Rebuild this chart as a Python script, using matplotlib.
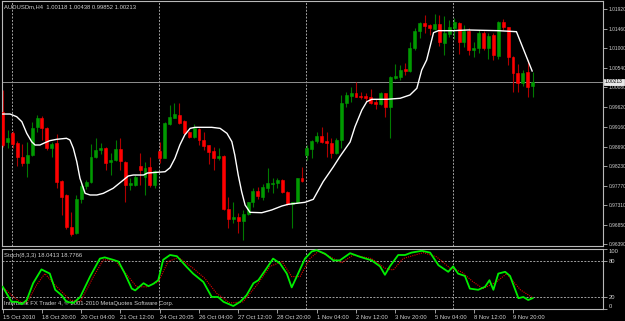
import matplotlib.pyplot as plt

title = 'AUDUSDm,H4  1.00118 1.00438 0.99852 1.00213'
stoch_title = 'Stoch(8,3,3) 18.0413 18.7766'
footer = 'Interbank FX Trader 4, \u00a9 2001-2010 MetaQuotes Software Corp.'

# H4 candles, 15 Oct 2010 -> 9 Nov 2010
opens = [0.99504, 0.98798, 0.99009, 0.98774, 0.98445, 0.98303, 0.98492, 0.99151, 0.99362, 0.99127,
         0.98657, 0.98774, 0.97880, 0.97551, 0.96798, 0.96656, 0.97457, 0.97762, 0.97857, 0.98445,
         0.98610, 0.98657, 0.98327, 0.98374, 0.98633, 0.98327, 0.97786, 0.97786, 0.98233, 0.97974,
         0.98210, 0.97786, 0.98586, 0.98421, 0.99221, 0.99362, 0.99433, 0.99292, 0.99033, 0.98915,
         0.99104, 0.98845, 0.98727, 0.98586, 0.98421, 0.98469, 0.97221, 0.96986, 0.97033, 0.96939,
         0.97104, 0.97386, 0.97645, 0.97504, 0.97716, 0.97810, 0.97833, 0.97904, 0.97621, 0.97339,
         0.97386, 0.97951, 0.98492, 0.98633, 0.98821, 0.98939, 0.98821, 0.98774, 0.98539, 0.98845,
         0.99715, 0.99880, 0.99951, 0.99880, 0.99880, 0.99857, 0.99739, 0.99692, 0.99951, 0.99621,
         1.00304, 1.00327, 1.00515, 1.00468, 1.01009, 1.01409, 1.01597, 1.01550, 1.01457, 1.01574,
         1.01127, 1.01339, 1.01480, 1.01597, 1.01151, 1.01409, 1.00962, 1.01009, 1.01362, 1.01009,
         1.01315, 1.00821, 1.01621, 1.01504, 1.00798, 1.00421, 1.00186, 1.00445, 1.00118]
highs = [1.00021, 0.99080, 0.99057, 0.98821, 0.98751, 0.98798, 0.99268, 0.99433, 0.99410, 0.99151,
         0.98798, 0.98986, 0.97904, 0.97574, 0.97151, 0.97551, 0.97880, 0.97904, 0.98751, 0.98892,
         0.98774, 0.98680, 0.98539, 0.98845, 0.98892, 0.98350, 0.97951, 0.98021, 0.98539, 0.98327,
         0.98445, 0.98139, 0.98798, 0.99268, 0.99668, 0.99715, 0.99715, 0.99315, 0.99057, 0.99221,
         0.99127, 0.99033, 0.98727, 0.98680, 0.98657, 0.98492, 0.97504, 0.97386, 0.97127, 0.97198,
         0.97386, 0.97716, 0.97739, 0.97810, 0.98186, 0.97951, 0.97951, 0.97927, 0.97645, 0.97386,
         0.97951, 0.98210, 0.98727, 0.98845, 0.99033, 0.99151, 0.99033, 0.98892, 0.98892, 0.99904,
         0.99975, 1.00092, 1.00210, 0.99975, 0.99951, 1.00045, 0.99810, 0.99975, 0.99951, 1.00351,
         1.00633, 1.00610, 1.00657, 1.01151, 1.01480, 1.01621, 1.01786, 1.01574, 1.01810, 1.01786,
         1.01762, 1.01668, 1.01715, 1.01621, 1.01550, 1.01480, 1.01151, 1.01433, 1.01409, 1.01362,
         1.01362, 1.01645, 1.01692, 1.01504, 1.00821, 1.00633, 1.00492, 1.00727, 1.00438]
lows = [0.98680, 0.98657, 0.98657, 0.98233, 0.98233, 0.97974, 0.98469, 0.99033, 0.98845, 0.98610,
        0.98445, 0.97716, 0.97080, 0.96751, 0.96586, 0.96633, 0.97362, 0.97692, 0.97833, 0.98421,
        0.98516, 0.98139, 0.98021, 0.98350, 0.98139, 0.97386, 0.97668, 0.97762, 0.97786, 0.97551,
        0.97739, 0.97716, 0.98303, 0.98421, 0.99198, 0.99362, 0.99221, 0.98986, 0.98892, 0.98892,
        0.98727, 0.98610, 0.98280, 0.98139, 0.98374, 0.97198, 0.96774, 0.96892, 0.96656, 0.96492,
        0.97080, 0.97268, 0.97457, 0.97433, 0.97621, 0.97598, 0.97716, 0.97598, 0.97315, 0.96774,
        0.97362, 0.97857, 0.98374, 0.98421, 0.98774, 0.98774, 0.98445, 0.98421, 0.98516, 0.98657,
        0.99621, 0.99739, 0.99857, 0.99810, 0.99762, 0.99692, 0.99574, 0.99668, 0.99386, 0.98892,
        1.00280, 1.00257, 1.00374, 1.00445, 1.00962, 1.01245, 1.01362, 1.01315, 1.01433, 1.01057,
        1.00845, 1.01268, 1.01221, 1.00868, 1.01033, 1.00845, 1.00798, 1.00892, 1.00962, 1.00751,
        1.00727, 1.00751, 1.01433, 1.00610, 0.99975, 0.99975, 1.00116, 0.99857, 0.99852]
closes = [0.98727, 0.98892, 0.98751, 0.98445, 0.98303, 0.98492, 0.99127, 0.99362, 0.99127, 0.98657,
          0.98751, 0.97857, 0.97504, 0.96798, 0.96633, 0.97457, 0.97762, 0.97857, 0.98445, 0.98610,
          0.98657, 0.98303, 0.98374, 0.98633, 0.98350, 0.97786, 0.97833, 0.97974, 0.98139, 0.98186,
          0.97786, 0.98115, 0.98421, 0.99245, 0.99386, 0.99457, 0.99245, 0.99009, 0.98915, 0.99127,
          0.98845, 0.98704, 0.98563, 0.98421, 0.98469, 0.97221, 0.96986, 0.97033, 0.96939, 0.97104,
          0.97386, 0.97645, 0.97527, 0.97739, 0.97833, 0.97833, 0.97904, 0.97621, 0.97339, 0.97386,
          0.97951, 0.97880, 0.98657, 0.98821, 0.98939, 0.98798, 0.98774, 0.98539, 0.98845, 0.99715,
          0.99904, 0.99951, 0.99857, 0.99857, 0.99833, 0.99715, 0.99692, 0.99951, 0.99621, 1.00327,
          1.00351, 1.00492, 1.00468, 1.01009, 1.01409, 1.01597, 1.01527, 1.01480, 1.01574, 1.01151,
          1.01362, 1.01504, 1.01621, 1.01151, 1.01409, 1.00962, 1.01009, 1.01362, 1.01009, 1.01292,
          1.00845, 1.01621, 1.01504, 1.00798, 1.00421, 1.00186, 1.00421, 1.00092, 1.00213]

# moving average (white line), read at bar positions
ma_bar = [0, 1.5, 2.85, 3.9, 4.9, 5.9, 6.6, 7.6, 8.6, 9.6, 11, 13, 13.7, 14.4, 15.1, 15.75, 16.8,
          17.8, 19.2, 20.5, 22.5, 24.6, 25.6, 26.6, 28.7, 29.5, 33.1, 34.1, 35.1, 36.1, 37.1, 38.2,
          39.2, 42.6, 44.3, 45.7, 46.7, 47.3, 48, 48.7, 49.4, 50.4, 52.8, 54.8, 56.9, 58.2, 61.6,
          63.3, 65.3, 67.4, 68.7, 70.8, 71.8, 73.2, 74.2, 75.2, 78.3, 81, 83, 84.4, 85.4, 86.4,
          87.8, 88.8, 91.8, 94.9, 101, 104.7, 107.9]
ma_val = [0.99456, 0.99456, 0.99393, 0.99275, 0.99002, 0.98805, 0.98727, 0.98727, 0.98781, 0.98829,
          0.98861, 0.98885, 0.98845, 0.98649, 0.98334, 0.97943, 0.97590, 0.97551, 0.97551, 0.97590,
          0.97708, 0.97904, 0.97998, 0.98021, 0.98021, 0.98068, 0.98099, 0.98193, 0.98414, 0.98727,
          0.98963, 0.99119, 0.99143, 0.99143, 0.99119, 0.99002, 0.98805, 0.98492, 0.98021, 0.97628,
          0.97315, 0.97143, 0.97134, 0.97198, 0.97292, 0.97332, 0.97379, 0.97449, 0.97864, 0.98217,
          0.98452, 0.98798, 0.99158, 0.99551, 0.99746, 0.99802, 0.99802, 0.99826, 0.99904, 1.00061,
          1.00492, 1.00727, 1.01370, 1.01417, 1.01417, 1.01433, 1.01417, 1.01393, 1.00468]

# stochastic %K (green) and %D (red dotted)
k_bar = [0, 0.8, 1.8, 2.9, 3.9, 4.9, 6.2, 7.9, 9.6, 10.7, 12, 13, 14.4, 15.8, 17.8, 19.8, 20.8,
         22.5, 23.6, 24.9, 26.3, 27, 28.7, 29.7, 30.7, 31.7, 32.7, 34.1, 35.5, 37.5, 38.8, 40.9,
         42.6, 43.9, 45, 47, 48.4, 49.7, 51.1, 52.1, 53.8, 55.1, 56.5, 57.9, 58.9, 60.2, 61.6, 63,
         64, 65.7, 67.4, 68.7, 70.8, 72.8, 75.2, 76.9, 77.9, 78.9, 80.6, 82, 83.3, 85.4, 87.1,
         88.8, 90.8, 91.8, 92.8, 94.2, 95.2, 96.9, 98.3, 99.2, 100, 101, 102.4, 103.4, 105.1,
         106.1, 107.1, 108]
k_val = [37, 26, 12, 12, 8, 15, 43, 66, 59, 32, 23, 12, 10, 20, 54, 84, 86, 82, 79, 59, 34, 31,
         43, 38, 42, 48, 82, 90, 88, 70, 59, 45, 20, 20, 12, 5, 12, 23, 43, 48, 68, 84, 76, 59, 36,
         59, 84, 96, 98, 92, 81, 81, 93, 87, 81, 71, 57, 71, 90, 90, 94, 97, 94, 73, 62, 71, 59,
         55, 34, 32, 37, 48, 32, 59, 62, 55, 18, 20, 15, 18.04]
d_bar = [0.1, 1.8, 3.5, 4.9, 6.9, 8.6, 10.3, 12, 13.7, 15.8, 18.5, 20.5, 22.9, 25.6, 27.3, 29.3,
         31.7, 33.7, 35.8, 38.8, 41.2, 43.6, 46.3, 49, 51.8, 54.5, 56.9, 58.9, 60.6, 62.6, 64.3,
         66.7, 69.1, 71.4, 75.2, 77.9, 79.6, 81.6, 85.7, 88.4, 91.2, 93.5, 95.9, 97.9, 100.6,
         102.7, 105.5, 108]
d_val = [36, 23, 12, 10, 40, 59, 43, 29, 15, 12, 54, 82, 81, 54, 37, 37, 45, 79, 86, 68, 51, 26,
         10, 12, 40, 71, 79, 54, 54, 84, 96, 87, 77, 90, 84, 68, 65, 84, 94, 87, 68, 62, 45, 34,
         45, 59, 32, 18.78]

price_ticks = [1.0192, 1.0146, 1.0100, 1.0054, 1.0008, 0.9962, 0.9916, 0.9869, 0.9823, 0.9777,
               0.9731, 0.9685, 0.9639]
price_labels = ['1.01920', '1.01460', '1.01000', '1.00540', '1.00080', '0.99620', '0.99160',
                '0.98690', '0.98230', '0.97770', '0.97310', '0.96850', '0.96390']
bid = 1.00213

time_bars = [0, 8, 16, 24, 32, 40, 48, 56, 64, 72, 80, 88, 96, 104]
time_labels = ['15 Oct 2010', '18 Oct 20:00', '20 Oct 04:00', '21 Oct 12:00', '24 Oct 20:05',
               '26 Oct 04:00', '27 Oct 12:00', '28 Oct 20:00', '1 Nov 04:00', '2 Nov 12:00',
               '3 Nov 20:00', '5 Nov 04:00', '8 Nov 12:00', '9 Nov 20:00']
grid_bars = [2, 32, 62, 92]

plt.rcParams['font.family'] = ['Liberation Sans', 'DejaVu Sans']
fg = '#d0d0d0'
frame = '#b8b8b8'
fs = 4.2
fs_price = 3.5

fig = plt.figure(figsize=(6.25, 3.21), dpi=100, facecolor='black')
W, H = 625.0, 321.0
ax = fig.add_axes([2 / W, 1 - 246 / H, 601 / W, 245 / H], facecolor='black')
ax2 = fig.add_axes([2 / W, 1 - 309 / H, 601 / W, 60 / H], facecolor='black')

xlim = (-0.143, 122.34)
for a in (ax, ax2):
    a.set_xlim(*xlim)
    for s in a.spines.values():
        s.set_color(frame)
        s.set_linewidth(0.8)
    for g in grid_bars:
        a.axvline(g - 0.15, color='#a0a0a0', lw=0.7, ls=(0, (2, 1.5)), zorder=0)

ax.set_ylim(0.96351, 1.02115)

# candles
n = len(opens)
for i in range(n):
    up = closes[i] >= opens[i]
    wick = '#007a00' if up else '#b00000'
    body = '#009a00' if up else '#ff0000'
    ax.vlines(i, lows[i], highs[i], color=wick, lw=0.8, zorder=2)
    ax.bar(i, closes[i] - opens[i], bottom=opens[i], width=0.6, color=body,
           edgecolor=body, linewidth=0.4, zorder=3)

ax.plot(ma_bar, ma_val, color='white', lw=1.0, zorder=4)
ax.axhline(bid, color='#909090', lw=0.7, zorder=1)

ax.yaxis.tick_right()
ax.set_yticks(price_ticks)
ax.set_yticklabels(price_labels)
ax.tick_params(axis='y', colors=frame, labelcolor=fg, labelsize=fs_price, length=3, width=0.6, pad=0.8)
ax.set_xticks([])
ax.text(1.0035, bid, '1.00213', transform=ax.get_yaxis_transform(), fontsize=fs_price,
        color='black', va='center', ha='left',
        bbox=dict(boxstyle='square,pad=0.15', fc='#e8e8e8', ec='white', lw=0.5))
ax.text(0.004, 0.985, title, transform=ax.transAxes, fontsize=fs, color=fg, va='top', ha='left')

# stochastic window
ax2.set_ylim(0, 100)
ax2.plot(d_bar, d_val, color='#e00000', lw=0.8, ls=(0, (1, 1)), zorder=3)
ax2.plot(k_bar, k_val, color='#00ee00', lw=1.3, zorder=4)
for lvl in (80, 20):
    ax2.axhline(lvl, color='#a0a0a0', lw=0.7, ls=(0, (2, 1.5)), zorder=0)
ax2.yaxis.tick_right()
ax2.set_yticks([100, 80, 20, 0])
ax2.set_yticklabels(['100', '80', '20', '0'])
ax2.tick_params(axis='y', colors=frame, labelcolor=fg, labelsize=fs, length=3, width=0.6, pad=1)
lbls = ax2.get_yticklabels()
lbls[0].set_va('top')
lbls[-1].set_va('bottom')

ax2.set_xticks(time_bars)
ax2.set_xticklabels(time_labels, ha='left')
ax2.tick_params(axis='x', colors=frame, labelcolor=fg, labelsize=fs, length=3, width=0.6, pad=1)

ax2.text(0.004, 0.93, stoch_title, transform=ax2.transAxes, fontsize=fs, color=fg, va='top', ha='left')
ax2.text(0.004, 0.05, footer, transform=ax2.transAxes, fontsize=fs, color=fg, va='bottom', ha='left')

fig.savefig('out.png', dpi=100, facecolor='black')
